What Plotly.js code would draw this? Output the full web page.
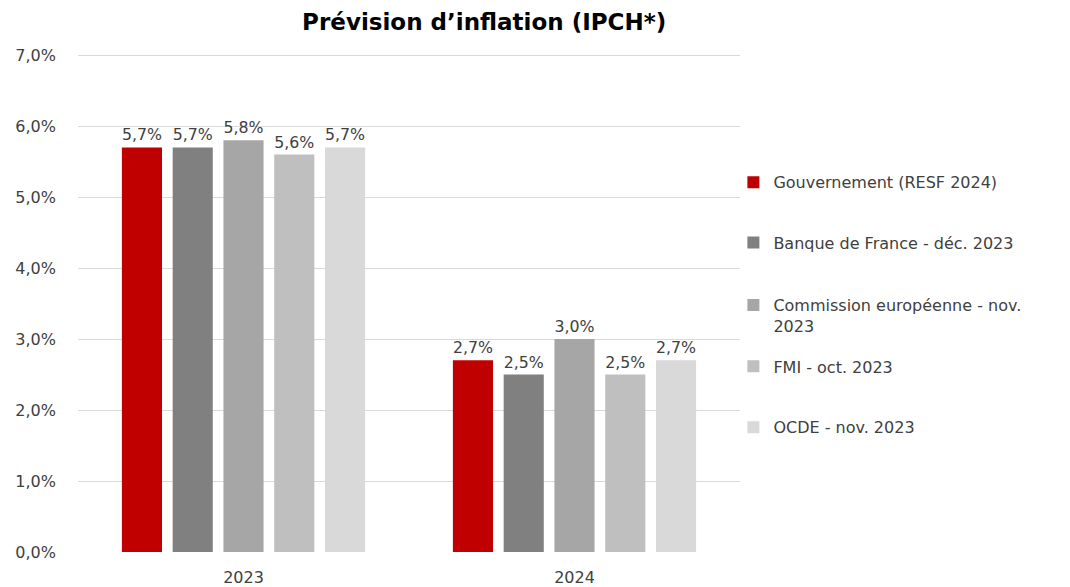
<!DOCTYPE html>
<html>
<head>
<meta charset="utf-8">
<script src="https://cdn.plot.ly/plotly-3.0.1.min.js"></script>
<style>html,body{margin:0;padding:0;background:#fff;}#chart{width:1070px;height:587px;}</style>
</head>
<body>
<div id="chart"></div>
<script>
const categories = ["2023", "2024"];
const seriesNames = [
  "Gouvernement (RESF 2024)",
  "Banque de France - déc. 2023",
  "Commission européenne - nov.<br>2023",
  "FMI - oct. 2023",
  "OCDE - nov. 2023"
];
const gouvernement = [5.7, 2.7];
const banqueDeFrance = [5.7, 2.5];
const commission = [5.8, 3.0];
const fmi = [5.6, 2.5];
const ocde = [5.7, 2.7];
const yTicks = [0, 1, 2, 3, 4, 5, 6, 7];
const yTickLabels = ["0,0%", "1,0%", "2,0%", "3,0%", "4,0%", "5,0%", "6,0%", "7,0%"];

const seriesValues = [gouvernement, banqueDeFrance, commission, fmi, ocde];
const colors = ["#C00000", "#808080", "#A6A6A6", "#BFBFBF", "#D9D9D9"];
const legendY = [0.775, 0.654, 0.529, 0.406, 0.284];
const FONT = "DejaVu Sans, sans-serif";

const traces = seriesValues.map((vals, i) => ({
  type: "bar",
  name: seriesNames[i],
  x: categories,
  y: vals,
  marker: {color: colors[i]},
  texttemplate: "%{y:.1f}%",
  textposition: "outside",
  textfont: {family: FONT, size: 16, color: "#404040"},
  cliponaxis: false,
  hoverinfo: "skip",
  legend: i === 0 ? "legend" : "legend" + (i + 1)
}));

const layout = {
  width: 1070,
  height: 587,
  paper_bgcolor: "#fff",
  plot_bgcolor: "#fff",
  separators: ", ",
  font: {family: FONT, size: 16, color: "#404040"},
  margin: {l: 78, r: 330, t: 53, b: 35},
  title: {
    text: "<b>Prévision d’inflation (IPCH*)</b>",
    font: {family: FONT, size: 23, color: "#000"},
    x: 0.4525, xanchor: "center",
    y: 0.962, yanchor: "middle"
  },
  barmode: "group",
  bargap: 0.233,
  bargroupgap: 0.21,
  xaxis: {
    showgrid: false,
    zeroline: false,
    showline: false,
    tickfont: {family: FONT, size: 16, color: "#404040"},
    ticks: "",
    ticklabelstandoff: 14
  },
  yaxis: {
    range: [0, 7.03],
    tickvals: yTicks,
    ticktext: yTickLabels,
    showgrid: true,
    gridcolor: "#D9D9D9",
    gridwidth: 1,
    zeroline: false,
    showline: false,
    ticks: "",
    ticklabelstandoff: 21,
    tickfont: {family: FONT, size: 16, color: "#404040"}
  },
  showlegend: true
};

seriesNames.forEach((n, i) => {
  const key = i === 0 ? "legend" : "legend" + (i + 1);
  layout[key] = {
    x: 0.99, xanchor: "left",
    y: legendY[i], yanchor: "top",
    valign: "top",
    bgcolor: "rgba(0,0,0,0)",
    borderwidth: 0,
    itemwidth: 30,
    font: {family: FONT, size: 16, color: "#404040"}
  };
});

Plotly.newPlot("chart", traces, layout, {displayModeBar: false, staticPlot: true});
</script>
</body>
</html>
